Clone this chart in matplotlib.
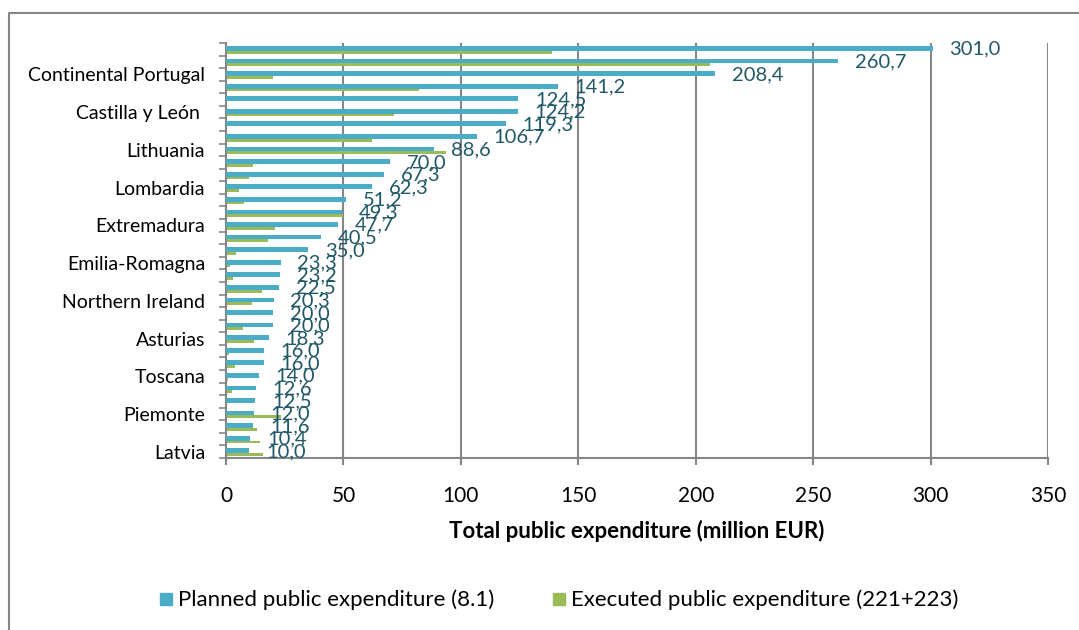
import matplotlib.pyplot as plt
from matplotlib.lines import Line2D
import numpy as np

plt.rcParams['font.family'] = ['Lato', 'DejaVu Sans']

# regions, top to bottom (only every third one carries a label)
regions = ["", "", "Continental Portugal",
           "", "", "Castilla y León ",
           "", "", "Lithuania",
           "", "", "Lombardia",
           "", "", "Extremadura",
           "", "", "Emilia-Romagna",
           "", "", "Northern Ireland",
           "", "", "Asturias",
           "", "", "Toscana",
           "", "", "Piemonte",
           "", "", "Latvia"]

planned = [301.0, 260.7, 208.4, 141.2, 124.5, 124.2, 119.3, 106.7, 88.6, 70.0,
           67.3, 62.3, 51.2, 49.3, 47.7, 40.5, 35.0, 23.3, 23.2, 22.5,
           20.3, 20.0, 20.0, 18.3, 16.0, 16.0, 14.0, 12.6, 12.5, 12.0,
           11.6, 10.4, 10.0]

executed = [139, 206, 20, 82, 0, 71.4, 0, 62.2, 93.8, 11.3,
            10.0, 5.7, 7.5, 49.7, 20.9, 17.7, 4.1, 1.9, 3.1, 15.2,
            11.2, 0, 7.4, 12.1, 1.4, 3.7, 1.0, 2.4, 0, 23.3,
            13.2, 14.5, 15.9]

blue = "#4BACC6"
green = "#9BBB59"
grey = "#868686"

fig = plt.figure(figsize=(10.79, 6.30), dpi=100)
ax = fig.add_axes([226 / 1079, 1 - 458 / 630, (1048 - 226) / 1079, (458 - 43) / 630])

y = np.arange(len(planned))
ax.barh(y - 0.07, planned, height=0.38, color=blue, zorder=3)
ax.barh(y + 0.23, executed, height=0.22, color=green, zorder=2)

# value labels next to the planned bars
for yi, v in zip(y, planned):
    ax.annotate(f"{v:.1f}".replace(".", ","), (v, yi), xytext=(12, 0),
                textcoords="offset points", va="center", ha="left",
                fontsize=14.5, color="#215868", zorder=4)

ax.set_xlim(0, 350)
ax.set_ylim(len(planned) - 0.5, -0.5)
ax.set_xticks(np.arange(0, 351, 50))
ax.tick_params(axis="x", length=5, width=1.5, color=grey, labelsize=15, pad=15)

ax.set_yticks(y)
ax.set_yticklabels(regions, fontsize=14)
ax.tick_params(axis="y", which="major", length=0, pad=15)
ax.set_yticks(np.arange(-0.5, len(planned), 1), minor=True)
ax.tick_params(axis="y", which="minor", length=5, width=1.2, color=grey)

ax.grid(axis="x", color=grey, linewidth=1.5, zorder=0)
for s in ["top", "right"]:
    ax.spines[s].set_visible(False)
for s in ["left", "bottom"]:
    ax.spines[s].set_color(grey)
    ax.spines[s].set_linewidth(1.5)

ax.set_xlabel("Total public expenditure (million EUR)", fontsize=16,
              fontweight="bold", labelpad=10)

handles = [Line2D([], [], marker="s", linestyle="", color=blue, markersize=9),
           Line2D([], [], marker="s", linestyle="", color=green, markersize=9)]
fig.legend(handles, ["Planned public expenditure (8.1)",
                     "Executed public expenditure (221+223)"],
           loc="center", bbox_to_anchor=(0.517, 1 - 600 / 630), ncol=2,
           frameon=False, fontsize=16, handletextpad=0.15, columnspacing=2.5,
           handlelength=0.8)

# outer chart frame
fig.add_artist(Line2D([9 / 1079, 9 / 1079, 1], [0, 1 - 13 / 630, 1 - 13 / 630],
                      color=grey, linewidth=1.5))

fig.savefig("out.png", dpi=100)
